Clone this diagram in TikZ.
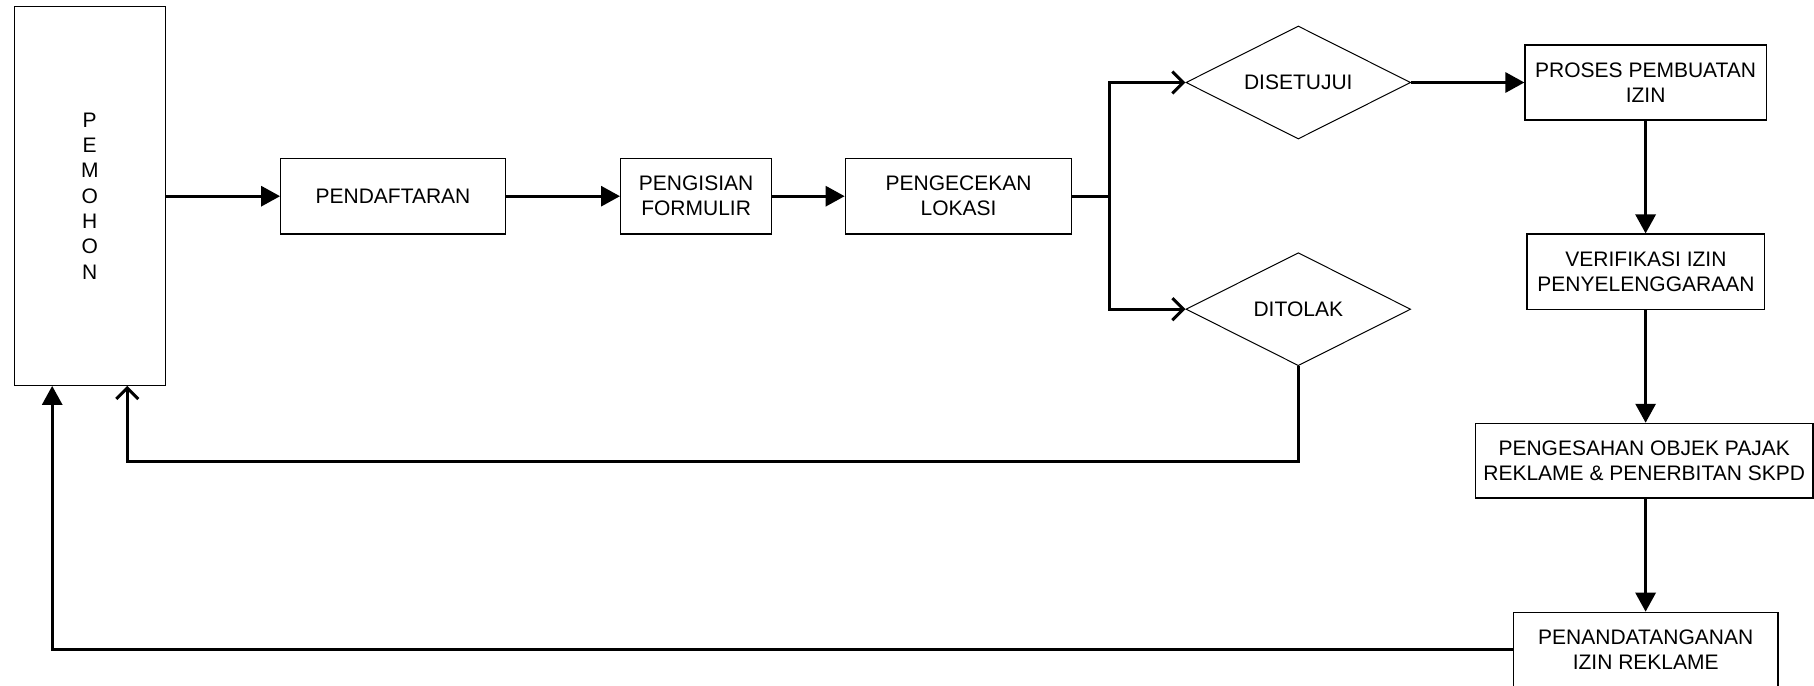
\documentclass[tikz,border=0pt]{standalone}
\usepackage{fontspec}
\setmainfont{Liberation Sans}
\usetikzlibrary{shapes.geometric,arrows.meta}
\begin{document}
\begin{tikzpicture}[x=1pt,y=-1pt,
  box/.style={draw,line width=1.2pt,rectangle,inner sep=0pt,align=center,font=\fontsize{21}{25}\selectfont},
  dec/.style={draw,line width=1pt,diamond,aspect=2,inner sep=0pt,align=center,font=\fontsize{21}{25}\selectfont,minimum width=224.7pt,minimum height=113pt},
  flow/.style={line width=3pt,-{Triangle[length=19pt,width=20pt]}},
  back/.style={line width=3pt,-{Straight Barb[length=11pt,width=22pt]}}
]
\useasboundingbox (0,0) rectangle (1814,685);
\node[box,minimum width=151pt,minimum height=378.6pt,font=\fontsize{21}{25.3}\selectfont] (pem) at (89.75,196) {P\\E\\M\\O\\H\\O\\N};
\node[box,minimum width=224.6pt,minimum height=75.7pt] (daf) at (393,196.2) {PENDAFTARAN};
\node[box,minimum width=151pt,minimum height=75.7pt] (isi) at (696.1,196.2) {PENGISIAN\\FORMULIR};
\node[box,minimum width=226.5pt,minimum height=75.7pt] (cek) at (958.5,196.2) {PENGECEKAN\\LOKASI};
\node[dec] (dis) at (1298.3,82.5) {DISETUJUI};
\node[dec] (dit) at (1298.3,309.2) {DITOLAK};
\node[box,minimum width=241.2pt,minimum height=75pt] (pro) at (1645.6,82.5) {PROSES PEMBUATAN\\IZIN};
\node[box,minimum width=237.7pt,minimum height=75.3pt] (ver) at (1645.9,271.7) {VERIFIKASI IZIN\\PENYELENGGARAAN};
\node[box,minimum width=337.7pt,minimum height=74.7pt] (sah) at (1644.2,460.7) {PENGESAHAN OBJEK PAJAK\\REKLAME \& PENERBITAN SKPD};
\node[box,minimum width=264.7pt,minimum height=75pt] (ttd) at (1645.7,649.8) {PENANDATANGANAN\\IZIN REKLAME};

\draw[flow] (pem.east |- daf.west) -- (daf.west);
\draw[flow] (daf.east) -- (isi.west);
\draw[flow] (isi.east) -- (cek.west);
\coordinate (br) at (1109.3,196.2);
\draw[line width=3pt] (cek.east) -- (br);
\draw[back] (br) |- (dis.west);
\draw[back] (br) |- (dit.west);
\draw[flow] (dis.east) -- (pro.west);
\draw[flow] (pro.south) -- (pro.south |- ver.north);
\draw[flow] (pro.south |- ver.south) -- (pro.south |- sah.north);
\draw[flow] (pro.south |- sah.south) -- (pro.south |- ttd.north);
\coordinate (r1) at (127.3,461);
\draw[back] (dit.south) |- (r1) -- (r1 |- pem.south);
\coordinate (r2) at (52.2,649.8);
\draw[flow] (ttd.west) -- (r2) -- (r2 |- pem.south);
\end{tikzpicture}
\end{document}
